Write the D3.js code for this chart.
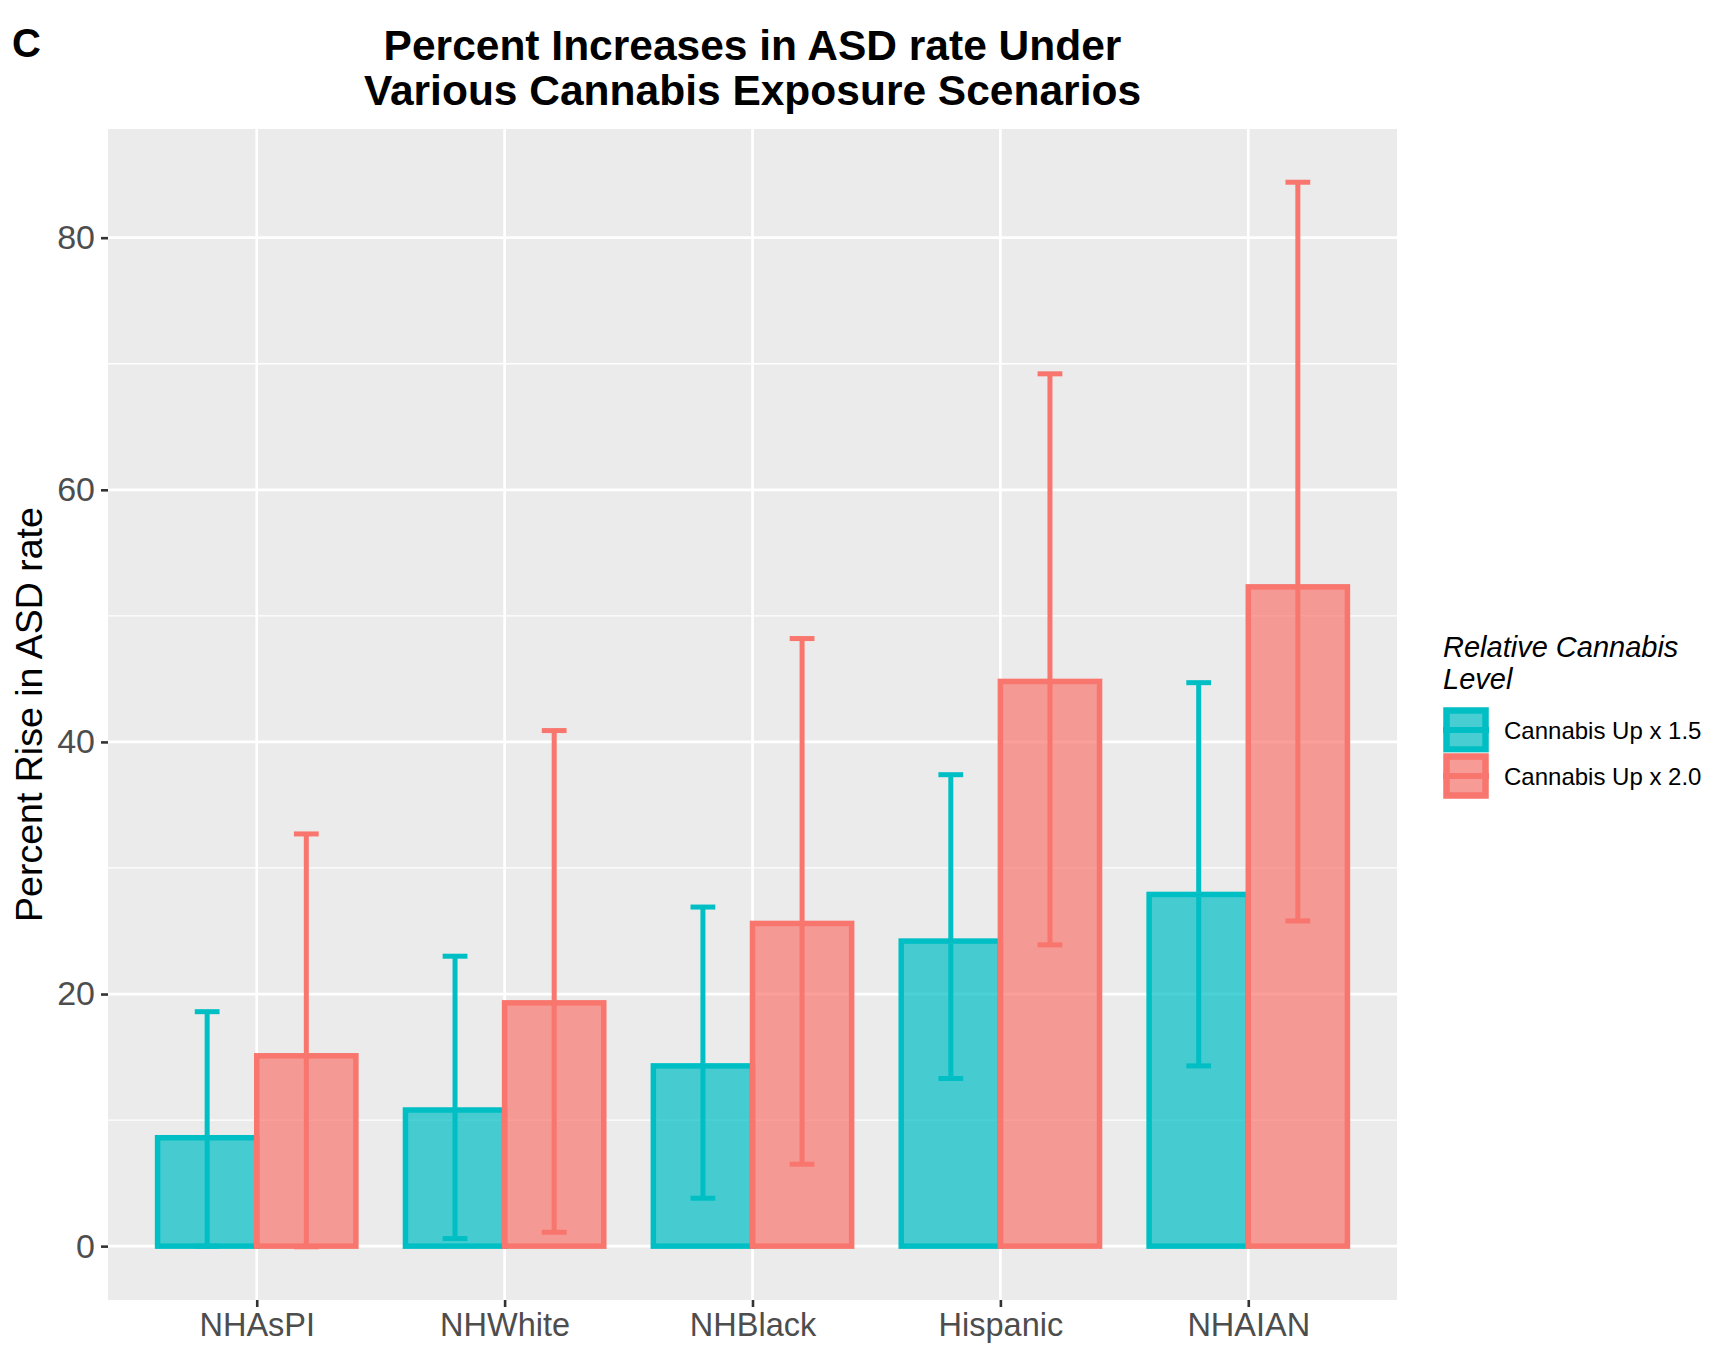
<!DOCTYPE html>
<html>
<head>
<meta charset="utf-8">
<script src="https://cdn.jsdelivr.net/npm/d3@7"></script>
<style>
  html, body { margin: 0; padding: 0; background: #ffffff; }
  svg { display: block; }
  text { font-family: "Liberation Sans", Arial, sans-serif; }
</style>
</head>
<body>
<svg id="chart" width="1710" height="1359"></svg>
<script>
// Population groups on the x axis
const groups = ["NHAsPI", "NHWhite", "NHBlack", "Hispanic", "NHAIAN"];

// Exposure scenarios (legend order)
const scenarios = ["Cannabis Up x 1.5", "Cannabis Up x 2.0"];

// Estimated percent rise in ASD rate, with lower / upper interval bounds
const rise15  = [8.6, 10.8, 14.3, 24.2, 27.9];
const low15   = [0.0, 0.6, 3.8, 13.3, 14.3];
const high15  = [18.6, 23.0, 26.9, 37.4, 44.7];

const rise20  = [15.1, 19.3, 25.6, 44.8, 52.3];
const low20   = [-0.05, 1.1, 6.5, 23.9, 25.8];
const high20  = [32.7, 40.9, 48.2, 69.2, 84.4];

const yTicks = [0, 20, 40, 60, 80];
const yMinor = [10, 30, 50, 70];

const colors = ["#00BFC4", "#F8766D"];

const svg = d3.select("#chart");

// Panel geometry
const panel = { left: 108, right: 1397, top: 129, bottom: 1300 };

// Build long-format rows from the arrays
const rows = [];
groups.forEach((g, i) => {
  rows.push({ group: g, scen: 0, val: rise15[i], lo: low15[i], hi: high15[i] });
});
groups.forEach((g, i) => {
  rows.push({ group: g, scen: 1, val: rise20[i], lo: low20[i], hi: high20[i] });
});

// y scale with 5% expansion on the data range (incl. interval bounds)
const yMinData = d3.min(rows, d => Math.min(0, d.lo));
const yMaxData = d3.max(rows, d => d.hi);
const pad = (yMaxData - yMinData) * 0.05;
const y = d3.scaleLinear()
  .domain([yMinData - pad, yMaxData + pad])
  .range([panel.bottom, panel.top]);

// discrete x: 0.6 unit expansion on each side
const unit = (panel.right - panel.left) / (groups.length - 1 + 1.2);
const xCenter = d3.scalePoint()
  .domain(groups)
  .range([panel.left + 0.6 * unit, panel.right - 0.6 * unit]);
const barW = 0.4 * unit;
const barX = (d) => xCenter(d.group) - 0.4 * unit + d.scen * barW;

// Panel background
svg.append("rect")
  .attr("x", panel.left).attr("y", panel.top)
  .attr("width", panel.right - panel.left)
  .attr("height", panel.bottom - panel.top)
  .attr("fill", "#EBEBEB");

// Grid lines
const grid = svg.append("g");
grid.selectAll("line.minor").data(yMinor).enter().append("line")
  .attr("x1", panel.left).attr("x2", panel.right)
  .attr("y1", d => y(d)).attr("y2", d => y(d))
  .attr("stroke", "#ffffff").attr("stroke-width", 1.3);
grid.selectAll("line.majy").data(yTicks).enter().append("line")
  .attr("x1", panel.left).attr("x2", panel.right)
  .attr("y1", d => y(d)).attr("y2", d => y(d))
  .attr("stroke", "#ffffff").attr("stroke-width", 2.7);
grid.selectAll("line.majx").data(groups).enter().append("line")
  .attr("x1", d => xCenter(d)).attr("x2", d => xCenter(d))
  .attr("y1", panel.top).attr("y2", panel.bottom)
  .attr("stroke", "#ffffff").attr("stroke-width", 2.7);

// Bars: translucent fill with solid outline, 1.5 scenario first
const bars = svg.append("g");
bars.selectAll("rect").data(rows).enter().append("rect")
  .attr("x", d => barX(d))
  .attr("width", barW)
  .attr("y", d => y(Math.max(0, d.val)))
  .attr("height", d => Math.abs(y(d.val) - y(0)))
  .attr("fill", d => colors[d.scen])
  .attr("fill-opacity", 0.7)
  .attr("stroke", d => colors[d.scen])
  .attr("stroke-width", 5.5);

// Error bars
const capW = 0.1 * unit;
const eb = svg.append("g").selectAll("g").data(rows).enter().append("g")
  .attr("stroke", d => colors[d.scen])
  .attr("stroke-width", 5);
eb.append("line")
  .attr("x1", d => barX(d) + barW / 2).attr("x2", d => barX(d) + barW / 2)
  .attr("y1", d => y(d.lo)).attr("y2", d => y(d.hi));
eb.append("line")
  .attr("x1", d => barX(d) + barW / 2 - capW / 2).attr("x2", d => barX(d) + barW / 2 + capW / 2)
  .attr("y1", d => y(d.hi)).attr("y2", d => y(d.hi));
eb.append("line")
  .attr("x1", d => barX(d) + barW / 2 - capW / 2).attr("x2", d => barX(d) + barW / 2 + capW / 2)
  .attr("y1", d => y(d.lo)).attr("y2", d => y(d.lo));

// Axes
const yAxis = d3.axisLeft(y).tickValues(yTicks).tickSize(7).tickPadding(6);
const gy = svg.append("g").attr("transform", `translate(${panel.left},0)`).call(yAxis);
gy.select(".domain").remove();
gy.selectAll(".tick line").attr("stroke", "#333333").attr("stroke-width", 2.6);
gy.selectAll(".tick text")
  .attr("fill", "#4D4D4D")
  .attr("font-size", 34)
  .attr("font-family", "Liberation Sans, Arial, sans-serif");

const xAxis = d3.axisBottom(xCenter).tickSize(7).tickPadding(6);
const gx = svg.append("g").attr("transform", `translate(0,${panel.bottom})`).call(xAxis);
gx.select(".domain").remove();
gx.selectAll(".tick line").attr("stroke", "#333333").attr("stroke-width", 2.6);
gx.selectAll(".tick text")
  .attr("fill", "#4D4D4D")
  .attr("font-size", 32.5)
  .attr("font-family", "Liberation Sans, Arial, sans-serif");

// Axis title
svg.append("text")
  .attr("transform", `translate(42,${(panel.top + panel.bottom) / 2}) rotate(-90)`)
  .attr("text-anchor", "middle")
  .attr("font-size", 37.5)
  .attr("fill", "#000000")
  .text("Percent Rise in ASD rate");

// Plot title
const titleX = (panel.left + panel.right) / 2;
const title = svg.append("text")
  .attr("text-anchor", "middle")
  .attr("font-size", 42.5)
  .attr("font-weight", "bold")
  .attr("fill", "#000000");
title.append("tspan").attr("x", titleX).attr("y", 60).text("Percent Increases in ASD rate Under");
title.append("tspan").attr("x", titleX).attr("y", 104.5).text("Various Cannabis Exposure Scenarios");

// Panel tag
svg.append("text")
  .attr("x", 12).attr("y", 57)
  .attr("font-size", 40)
  .attr("font-weight", "bold")
  .attr("fill", "#000000")
  .text("C");

// Legend
const lg = svg.append("g").attr("transform", "translate(1443,0)");
const lt = lg.append("text")
  .attr("font-size", 29)
  .attr("font-style", "italic")
  .attr("fill", "#000000");
lt.append("tspan").attr("x", 0).attr("y", 657).text("Relative Cannabis");
lt.append("tspan").attr("x", 0).attr("y", 689).text("Level");

const keySize = 46;
const keyTop = 707;
const keys = lg.selectAll("g.key").data(scenarios).enter().append("g")
  .attr("transform", (d, i) => `translate(0,${keyTop + i * keySize})`);
keys.append("rect")
  .attr("x", 0).attr("y", 0).attr("width", keySize).attr("height", keySize)
  .attr("fill", "#F2F2F2").attr("stroke", "#ffffff").attr("stroke-width", 1);
keys.append("rect")
  .attr("x", 3.5).attr("y", 3.5).attr("width", keySize - 7).attr("height", keySize - 7)
  .attr("fill", (d, i) => colors[i]).attr("fill-opacity", 0.7)
  .attr("stroke", (d, i) => colors[i]).attr("stroke-width", 6.5);
keys.append("line")
  .attr("x1", 0).attr("x2", keySize)
  .attr("y1", keySize / 2).attr("y2", keySize / 2)
  .attr("stroke", (d, i) => colors[i]).attr("stroke-width", 6);
keys.append("text")
  .attr("x", 61).attr("y", keySize / 2 + 8.5)
  .attr("font-size", 24)
  .attr("fill", "#000000")
  .text(d => d);
</script>
</body>
</html>
